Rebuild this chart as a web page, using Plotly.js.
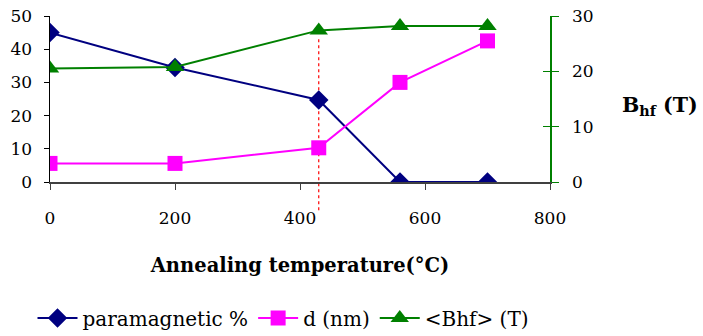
<!DOCTYPE html>
<html>
<head>
<meta charset="utf-8">
<script src="https://cdn.plot.ly/plotly-3.0.1.min.js"></script>
<style>html,body{margin:0;padding:0;background:#fff;}#chart{width:703px;height:336px;}</style>
</head>
<body>
<div id="chart"></div>
<script>
const temperatures = [0, 200, 430, 560, 700];
const paramagnetic = [45, 34.5, 24.7, 0, 0];
const grainSize = [5.6, 5.6, 10.3, 30, 42.5];
const bhf = [20.5, 20.8, 27.4, 28.2, 28.2];
const xTicks = [0, 200, 400, 600, 800];
const leftTicks = [0, 10, 20, 30, 40, 50];
const rightTicks = [0, 10, 20, 30];
const markerTemp = 430;

const serif = "DejaVu Serif";

const traces = [
  {x: temperatures, y: paramagnetic, name: 'paramagnetic %', mode: 'lines+markers',
   line: {color: '#000080', width: 2}, marker: {symbol: 'diamond', size: 15, color: '#000080'}, yaxis: 'y'},
  {x: temperatures, y: grainSize, name: 'd (nm)', mode: 'lines+markers',
   line: {color: '#FF00FF', width: 2}, marker: {symbol: 'square', size: 15, color: '#FF00FF'}, yaxis: 'y'},
  {x: temperatures, y: bhf, name: '&lt;Bhf&gt; (T)', mode: 'lines+markers',
   line: {color: '#008000', width: 2}, marker: {symbol: 'triangle-up', size: 16, color: '#008000'}, yaxis: 'y2'}
];

const layout = {
  width: 703, height: 336,
  margin: {l: 50, r: 153, t: 16, b: 154, autoexpand: false},
  paper_bgcolor: '#fff', plot_bgcolor: '#fff',
  font: {family: serif, size: 17, color: '#000'},
  showlegend: true,
  legend: {orientation: 'h', x: -0.035, xanchor: 'left', y: -0.82, yanchor: 'middle',
           font: {family: serif, size: 20, color: '#000'}, itemwidth: 40, tracegroupgap: 0},
  xaxis: {range: [0, 800], tickvals: xTicks, ticktext: xTicks.map(String), showgrid: false, zeroline: false,
          showline: true, linecolor: '#404040', linewidth: 1.5, ticks: 'outside', ticklen: 6, tickcolor: '#404040',
          ticklabelstandoff: 14, tickfont: {family: serif, size: 17}, automargin: false,
          title: {text: '<b>Annealing temperature(°C)</b>', font: {family: serif, size: 19.5}, standoff: 31}},
  yaxis: {range: [0, 50], tickvals: leftTicks, showgrid: false, zeroline: false, showline: true,
          linecolor: '#000', linewidth: 1.5, ticks: 'outside', ticklen: 5, tickcolor: '#000', automargin: false,
          ticklabelstandoff: 8, tickfont: {family: serif, size: 17}},
  yaxis2: {range: [0, 30], tickvals: rightTicks, overlaying: 'y', side: 'right', showgrid: false, zeroline: false,
           showline: true, linecolor: '#008000', linewidth: 1.5, ticks: 'outside', ticklen: 7, tickcolor: '#008000',
           ticklabelstandoff: 10, tickfont: {family: serif, size: 17}, automargin: false},
  yaxis3: {range: [0, 30], tickvals: rightTicks, overlaying: 'y', side: 'right', showgrid: false, zeroline: false,
           showline: false, ticks: 'inside', ticklen: 7, tickcolor: '#008000', showticklabels: false, automargin: false},
  shapes: [{type: 'line', xref: 'x', yref: 'paper', x0: markerTemp, x1: markerTemp, y0: -0.17, y1: 0.87,
            line: {color: '#FF0000', width: 1.2, dash: 'dot'}, layer: 'below'}],
  annotations: [{xref: 'paper', yref: 'paper', x: 1.14, xanchor: 'left', y: 0.46, yanchor: 'middle', showarrow: false,
                 text: '<b>B<sub>hf</sub> (T)</b>', font: {family: serif, size: 20.5, color: '#000'}}]
};

traces.push({x: [0], y: [0], yaxis: 'y3', showlegend: false, hoverinfo: 'skip', mode: 'markers', marker: {opacity: 0}});

Plotly.newPlot('chart', traces, layout, {staticPlot: true, displayModeBar: false});
</script>
</body>
</html>
